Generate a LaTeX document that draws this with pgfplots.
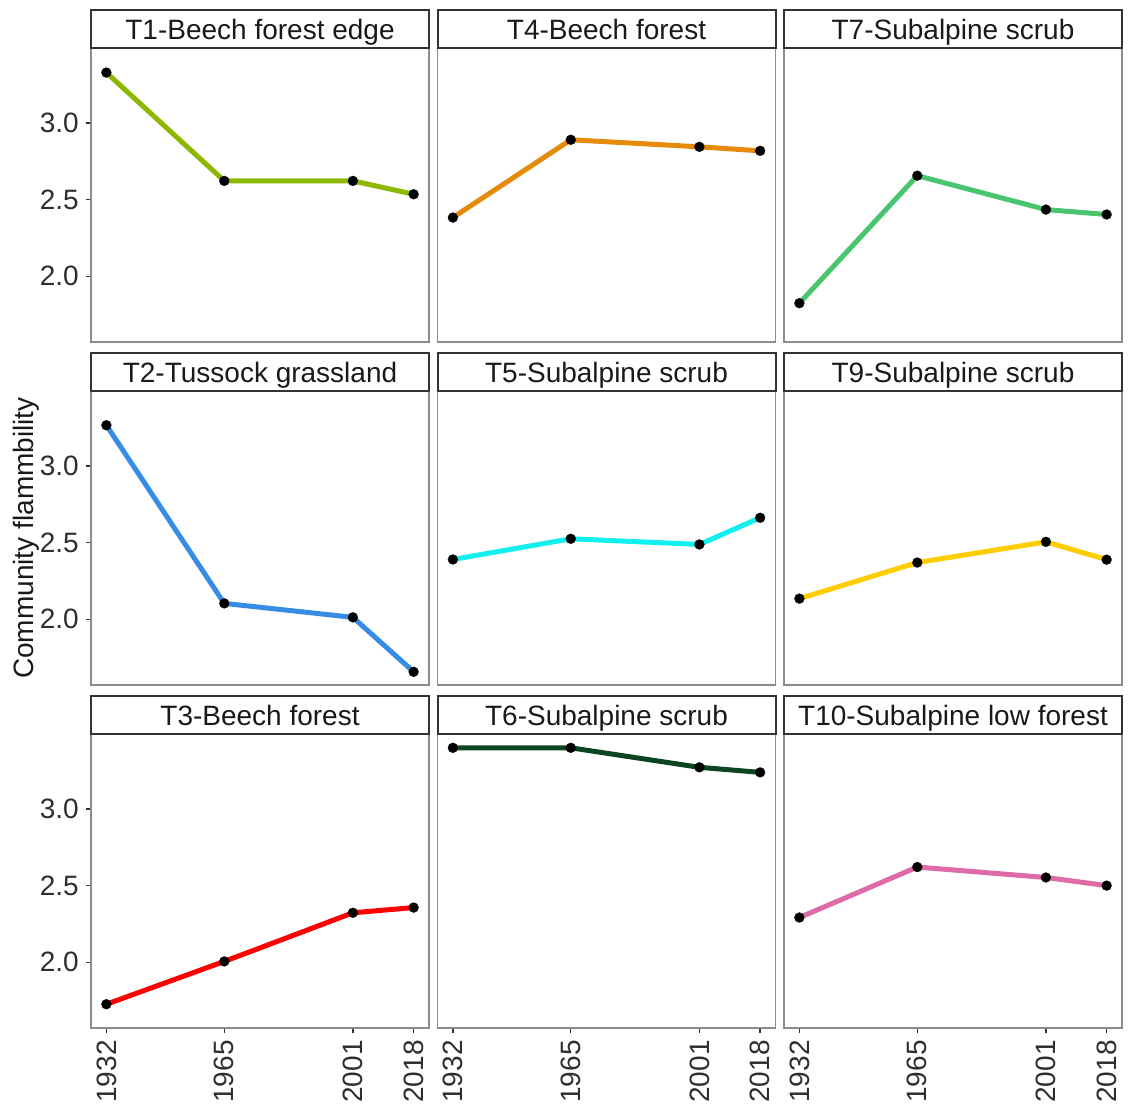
\documentclass[border=0pt]{standalone}
\usepackage{fontspec}
\setmainfont{Liberation Sans}
\usepackage{pgfplots}
\pgfplotsset{compat=1.18}
\usepgfplotslibrary{groupplots}

\definecolor{cT1}{HTML}{8CB800}
\definecolor{cT4}{HTML}{E68A0A}
\definecolor{cT7}{HTML}{48C56E}
\definecolor{cT2}{HTML}{378CE6}
\definecolor{cT5}{HTML}{12EFEF}
\definecolor{cT9}{HTML}{FFCD00}
\definecolor{cT3}{HTML}{FF0000}
\definecolor{cT6}{HTML}{0C4522}
\definecolor{cT10}{HTML}{DE6AA8}

\pgfplotsset{
  facet/.style={
    scale only axis, width=169pt, height=147pt,
    xmin=1927.7, xmax=2022.3, ymin=1.572, ymax=3.488,
    axis line style={draw=black!45, line width=0.7pt},
    tick align=outside, major tick length=2.6pt,
    tick style={black!80, line width=0.7pt},
    xtick pos=bottom, ytick pos=left,
    scaled x ticks=false, scaled y ticks=false,
    /pgf/number format/assume math mode=true,
    ticklabel style={font=\fontsize{14}{16}\selectfont, text=black!82},
    xticklabel style={rotate=90, anchor=east, /pgf/number format/1000 sep={}},
    yticklabel style={/pgf/number format/.cd, fixed, fixed zerofill, precision=1},
    every axis title/.style={at={(axis description cs:0.5,1)}, anchor=south,
      draw=black!80, line width=1pt, minimum width=169pt, minimum height=19pt,
      text height=10pt, text depth=0pt,
      inner sep=0pt, outer sep=0pt, font=\fontsize{14}{16}\selectfont, text=black!90},
    every axis plot/.append style={line width=2.5pt, mark=*, mark size=2.5pt,
      mark options={fill=black, draw=black, line width=0.1pt}},
  },
  ylft/.style={ytick={2,2.5,3}},
  ynone/.style={ytick=\empty},
  xbot/.style={xtick={1932,1965,2001,2018}},
  xnone/.style={xtick=\empty},
}

\begin{document}
\begin{tikzpicture}
\begin{groupplot}[group style={group size=3 by 3, horizontal sep=4.25pt, vertical sep=24.5pt}, facet]
\nextgroupplot[title={T1-Beech forest edge}, ylft, xnone]
\addplot[color=cT1] coordinates {(1932,3.328) (1965,2.622) (2001,2.622) (2018,2.535)};
\nextgroupplot[title={T4-Beech forest}, ynone, xnone]
\addplot[color=cT4] coordinates {(1932,2.383) (1965,2.890) (2001,2.844) (2018,2.818)};
\nextgroupplot[title={T7-Subalpine scrub}, ynone, xnone]
\addplot[color=cT7] coordinates {(1932,1.825) (1965,2.656) (2001,2.435) (2018,2.403)};
\nextgroupplot[title={T2-Tussock grassland}, ylft, xnone]
\addplot[color=cT2] coordinates {(1932,3.265) (1965,2.104) (2001,2.013) (2018,1.658)};
\nextgroupplot[title={T5-Subalpine scrub}, ynone, xnone]
\addplot[color=cT5] coordinates {(1932,2.390) (1965,2.525) (2001,2.488) (2018,2.662)};
\nextgroupplot[title={T9-Subalpine scrub}, ynone, xnone]
\addplot[color=cT9] coordinates {(1932,2.135) (1965,2.370) (2001,2.505) (2018,2.389)};
\nextgroupplot[title={T3-Beech forest}, ylft, xbot]
\addplot[color=cT3] coordinates {(1932,1.727) (1965,2.006) (2001,2.323) (2018,2.357)};
\nextgroupplot[title={T6-Subalpine scrub}, ynone, xbot]
\addplot[color=cT6] coordinates {(1932,3.398) (1965,3.398) (2001,3.271) (2018,3.238)};
\nextgroupplot[title={T10-Subalpine low forest}, ynone, xbot]
\addplot[color=cT10] coordinates {(1932,2.292) (1965,2.621) (2001,2.553) (2018,2.500)};
\end{groupplot}
\node[rotate=90, font=\fontsize{14}{16}\selectfont, text=black!90] at ([xshift=-32.5pt]group c1r2.west) {Community flammbility};
\path ([shift={(-45.5pt,-36.5pt)}]group c1r3.south west) ([shift={(521.5pt,514pt)}]group c1r3.south west);
\end{tikzpicture}
\end{document}
